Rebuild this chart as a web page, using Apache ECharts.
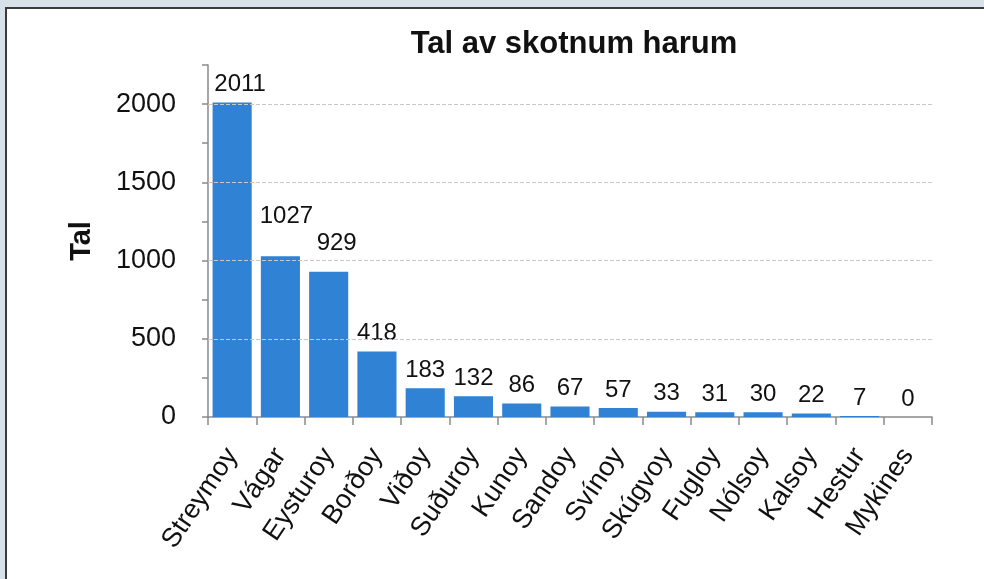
<!DOCTYPE html>
<html>
<head>
<meta charset="utf-8">
<script src="https://cdn.jsdelivr.net/npm/echarts@6/dist/echarts.min.js"></script>
<style>
  html, body { margin: 0; padding: 0; background: #d6e2e8; }
  #panel { position: absolute; left: 5px; top: 7px; right: 0; bottom: 0; background: #fff;
           border-left: 2px solid #3a3a3a; border-top: 2px solid #3a3a3a; }
  #chart { position: absolute; left: 0; top: 0; width: 984px; height: 579px; }
</style>
</head>
<body>
<div id="panel"></div>
<div id="chart"></div>
<script>
// oyggjar og tal
var islands = ['Streymoy', 'Vágar', 'Eysturoy', 'Borðoy', 'Viðoy', 'Suðuroy', 'Kunoy',
  'Sandoy', 'Svínoy', 'Skúgvoy', 'Fugloy', 'Nólsoy', 'Kalsoy', 'Hestur', 'Mykines'];
var counts = [2011, 1027, 929, 418, 183, 132, 86, 67, 57, 33, 31, 30, 22, 7, 0];
var gridValues = [500, 1000, 1500, 2000];

var font = 'Liberation Sans';
var chart = echarts.init(document.getElementById('chart'));

// a few labels sit a bit off in the original
var labelShift = { 0: [8, 0], 1: [6, -22], 2: [8, -10] };
var barData = counts.map(function (v, i) {
  var d = { value: v };
  if (labelShift[i]) d.label = { offset: labelShift[i] };
  return d;
});

var option = {
  backgroundColor: 'transparent',
  animation: false,
  title: {
    text: 'Tal av skotnum harum',
    left: 569,
    top: 24,
    textAlign: 'center',
    textStyle: { fontFamily: font, fontSize: 31, fontWeight: 'bold', color: '#111' }
  },
  grid: { left: 208, right: 52, top: 65, bottom: 162 },
  xAxis: {
    type: 'category',
    data: islands,
    axisLine: { lineStyle: { color: '#8a8a8a', width: 1.5 } },
    axisTick: { show: true, length: 8, lineStyle: { color: '#8a8a8a', width: 1.5 } },
    axisLabel: { rotate: 56, interval: 0, margin: 34, fontFamily: font, fontSize: 27, color: '#111' }
  },
  yAxis: {
    type: 'value',
    min: 0,
    max: 2250,
    interval: 250,
    name: 'Tal',
    nameLocation: 'middle',
    nameGap: 112,
    nameRotate: 90,
    nameTextStyle: { fontFamily: font, fontSize: 29, fontWeight: 'bold', color: '#111' },
    axisLine: { show: true, lineStyle: { color: '#8a8a8a', width: 1.5 } },
    axisTick: { show: true, length: 6, lineStyle: { color: '#8a8a8a', width: 1.5 } },
    splitLine: { show: false },
    axisLabel: {
      margin: 32,
      fontFamily: font,
      fontSize: 27,
      color: '#111',
      formatter: function (v) { return v % 500 === 0 ? String(v) : ''; }
    }
  },
  series: [{
    type: 'bar',
    data: barData,
    barCategoryGap: '19%',
    itemStyle: { color: '#2f82d4' },
    label: { show: true, position: 'top', distance: 6, fontFamily: font, fontSize: 24, color: '#111' },
    markLine: {
      silent: true,
      symbol: 'none',
      label: { show: false },
      lineStyle: { color: '#c8c8c8', type: 'dashed', width: 1 },
      data: gridValues.map(function (v) { return { yAxis: v }; })
    },
    z: 3
  }]
};

chart.setOption(option);
</script>
</body>
</html>
